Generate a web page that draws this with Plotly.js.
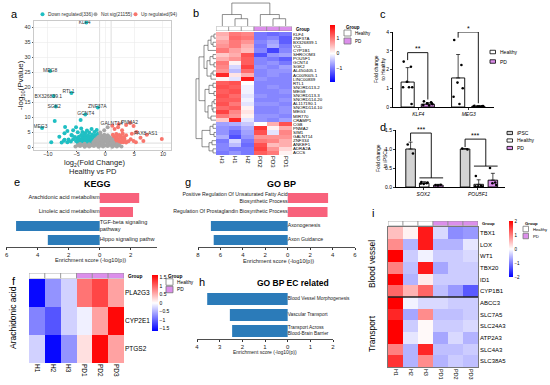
<!DOCTYPE html>
<html><head><meta charset="utf-8">
<script src="https://cdn.plot.ly/plotly-3.0.1.min.js"></script>
<style>html,body{margin:0;padding:0;background:#fff}#chart{width:550px;height:385px}</style>
</head><body><div id="chart"></div>
<script>
// ================= DATA =================
// a: volcano
const volcanoLegend = ['Down regulated(336)','Not sig(21155)','Up regulated(94)'];
const downX = [-3.3,-9.6,-5.9,-9.0,-8.6,-1.3,-3.5,-11.0,
 -8.8,-4.3,-7.0,-6.6,-7.1,-5.9,-5.1,-5.6,-4.8,-4.2,-4.0,-3.5,-2.8,-1.9,-1.5,-7.1,-9.4,-8.0,-3.2,-2.4,
 -4.8,-4.3,-3.9,-3.4,-2.9,-2.4,-1.9,-1.4,
 -5.1,-4.6,-4.1,-3.6,-3.1,-2.6,-2.1,-1.6,-1.2,
 -4.9,-4.4,-3.9,-3.4,-2.9,-2.4,-1.9,-1.4,
 -4.6,-4.0,-3.5,-3.0,-2.5,-2.0,-1.5,
 -4.2,-3.6,-3.0,-2.3,-1.7,-1.3,
 -5.6,-6.0,-6.4,-5.3,-5.8,-6.6,-7.2,-7.6];
const downY = [41.5,25.3,18.0,17.0,13.5,13.2,10.8,6.3,
 8.7,9.0,6.7,5.3,4.6,4.0,6.6,5.6,4.9,6.2,5.0,4.7,4.8,5.0,5.7,2.4,1.6,3.4,5.5,6.0,
 1.5,1.6,1.4,1.5,1.4,1.5,1.4,1.5,
 2.0,2.2,2.1,2.3,2.0,2.2,2.1,2.3,2.0,
 2.8,2.6,2.9,2.7,2.8,2.6,2.9,2.7,
 3.4,3.3,3.6,3.2,3.5,3.4,3.2,
 4.0,4.2,3.9,4.1,3.9,4.4,
 2.6,1.8,2.5,3.3,3.8,1.6,2.1,1.5];
const upX = [2.3,4.3,7.2,
 1.3,1.7,2.1,2.6,3.1,3.6, 1.4,1.9,2.4,2.9,3.4,4.0, 1.2,1.6,2.2,2.7,3.3, 1.5,2.0,2.6,3.1,
 1.3,1.9,2.4,3.0,3.6, 4.4,4.9,5.3,6.1,6.6,9.8, 4.6,5.4, 1.6,2.2,2.9,3.6,4.9,1.2];
const upY = [7.6,8.0,4.1,
 1.5,1.6,1.4,1.5,1.6,1.5, 2.1,2.3,2.0,2.2,2.1,1.9, 2.8,2.9,2.7,3.0,2.8, 3.5,3.4,3.7,3.3,
 4.1,4.3,4.0,4.5,3.9, 2.6,2.0,1.6,3.1,2.0,2.7, 4.4,5.0, 6.0,6.6,5.6,7.3,7.0,7.1];
const nsX = [-5.2,-4.4,-3.6,-2.8,-2.0,-1.2,-0.4,0.4,1.2,2.0,2.8,
 -4.8,-4.0,-3.2,-2.4,-1.6,-0.8,0.0,0.8,1.6,2.4,
 -4.4,-3.6,-2.8,-2.0,-1.2,-0.4,0.4,1.2,2.0,
 -2.1,-1.5,-0.9,-0.3,0.3,0.9,1.4,
 -1.9,-1.3,-0.7,-0.1,0.5,1.1,
 -1.7,-1.1,-0.5,0.1,0.7,1.2,
 -1.4,-0.8,-0.2,0.4,0.9,
 -1.1,-0.5,0.1,0.6,
 -0.8,-0.2,0.4,
 -0.9,-0.2,0.4];
const nsY = [0.2,0.3,0.1,0.2,0.3,0.1,0.2,0.3,0.1,0.2,0.2,
 0.6,0.7,0.5,0.6,0.7,0.5,0.6,0.7,0.5,0.6,
 1.0,1.1,0.9,1.0,1.1,0.9,1.0,1.1,0.9,
 1.5,1.6,1.4,1.5,1.6,1.4,1.5,
 2.0,2.1,1.9,2.0,2.1,1.9,
 2.5,2.6,2.4,2.5,2.6,2.4,
 3.0,3.1,2.9,3.0,3.0,
 3.5,3.6,3.4,3.5,
 4.0,4.1,3.9,
 4.8,5.6,6.6];
const volcanoLabels = ['KLF4','MEG8','RTL1','BX326839.1','SGK2','ZNF37A','GCNT4','MEG3','GALNT14','PNMA2','PAX8-AS1'];
const labelX = [-3.6,-9.6,-6.4,-9.9,-8.9,-1.4,-3.4,-11.3,1.1,4.2,7.0];
const labelY = [41.3,25.3,18.5,16.8,13.4,13.3,11.1,6.7,7.7,8.1,4.3];
const fcThreshold = 1, pThreshold = 0.05;

// b: heatmap of DEGs
const bCols = ['H3','H1','H2','PD2','PD3','PD1'];
const bGroup = ['Healthy','Healthy','Healthy','PD','PD','PD'];
const bGenes = ['KLF4','ZNF37A','BX326839.1','VCL','CYP1B1','SHROOM3','POU5F1','GCNT4','SGK2','AL450405.1',
 'AC009005.1','LINC00839','RTL1','SNORD113-2','MEG8','SNORD113-3','SNORD114-20','AL117190.1','SNORD114-10','MEG3',
 'MIR770','CRAMP1','CGB','PNMA2','SIM1','GALNT14','ZNF334','ANKEF1','ADRA2A','ACCS'];
const bZ = [
 [0.6,1.0,0.9,-1.0,-1.1,-1.0],[0.5,1.1,1.0,-1.0,-0.9,-1.2],[0.7,1.0,0.8,-0.9,-0.7,-1.2],[0.8,1.0,0.6,-1.0,-0.6,-1.0],
 [1.0,0.7,0.5,-0.9,-1.4,-0.9],[0.4,0.6,1.3,-1.3,-0.8,-0.7],[0.6,0.8,1.2,-0.9,-1.0,-1.2],[1.0,0.1,1.2,-0.9,-0.8,-1.0],
 [0.9,-0.3,1.4,-0.8,-0.9,-0.7],[0.8,-0.5,1.1,-0.9,-0.8,-0.8],[1.6,0.2,0.6,-0.9,-0.8,-0.9],[0.1,-0.2,1.7,-0.8,-0.9,-0.9],
 [1.2,1.3,0.0,-0.9,-0.9,-0.9],[1.3,1.2,-0.1,-0.9,-0.8,-0.9],[1.2,1.3,-0.1,-0.9,-0.9,-0.8],[1.3,1.1,-0.2,-0.8,-0.9,-0.9],
 [1.2,1.2,-0.1,-0.9,-0.9,-0.8],[1.3,1.0,-0.2,-0.8,-0.8,-0.9],[1.1,1.2,0.1,-0.9,-0.9,-0.8],[1.4,0.9,0.2,-0.9,-0.9,-0.8],
 [1.0,0.8,0.1,-0.8,-0.8,-0.9],[0.4,1.6,-0.2,-0.8,-0.9,-0.7],
 [-0.7,-0.6,-0.4,0.0,0.6,1.3],[-0.8,-0.9,-0.6,1.5,0.1,0.6],[-0.8,-1.1,-0.7,1.3,-0.2,0.9],[-0.6,-1.3,-0.8,0.8,0.8,0.8],
 [-1.0,-0.3,-1.0,1.0,0.9,0.6],[-0.9,-0.5,-1.1,1.3,0.5,0.6],[-0.9,-1.0,-1.0,1.4,0.8,0.3],[-1.0,-0.8,-1.0,1.2,1.0,0.1]];
// dendrograms: [height, left, right], leaves = column / row index
const colTree = [22,[11,0,[7,1,2]],[11,3,[7,4,5]]];
const rowTree = [20,
 [17,[12,[8,[5,[2,0,1],[3,2,3]],4],[9,[6,[3,5,6],[2,7,8]],[5,[3,9,10],11]]],
     [11,[7,[3,12,13],[2,14,15]],[8,[4,[2,16,17],[3,18,19]],[5,20,21]]]],
 [14,[6,[3,22,23],[2,24,25]],[7,[4,26,27],[3,28,29]]]];

// c: qPCR fold change to Healthy
const cGenes = ['KLF4','MEG3'];
const cHealthy = [1.33,1.55], cHealthyErr = [0.77,1.25];
const cPD = [0.15,0.04], cPDErr = [0.08,0.03];
const cHealthyDots = [[2.42,2.15,1.35,1.05,1.05,1.05,0.16],[3.57,2.24,1.3,1.0,0.55,0.16]];
const cPDDots = [[0.3,0.25,0.2,0.15,0.1,0.08,0.2],[0.06,0.04,0.03,0.05,0.04,0.03]];
const cSigText = ['**','*'], cSigY = [2.9,4.0], cSigLeft = [2.5,3.7], cSigRight = [0.4,0.2];

// d: fold change to iPSCs
const dGenes = ['SOX2','POU5F1'];
const dIPSC = [1.0,1.0], dIPSCErr = [0.18,0.01];
const dHealthy = [0.1,0.07], dHealthyErr = [0.04,0.12];
const dPD = [0.05,0.18], dPDErr = [0.02,0.18];
const dIPSCDots = [[1.12,0.88],[1.01,0.99]];
const dHealthyDots = [[0.13,0.1,0.08,0.12,0.09],[0.29,0.03,0.02,0.01,0.02]];
const dPDDots = [[0.05,0.06,0.04],[0.5,0.12,0.1,0.05]];
const dSigText = ['***','***'], dSigY = [1.42,1.26], dSigLeft = [1.2,1.05], dSigRight = [0.24,0.55];

// e / g / h: enrichment
const keggTerms = ['Arachidonic acid metabolism','Linoleic acid metabolism','TGF-beta signaling<br>pathway','Hippo signaling pathw'];
const keggScore = [2.55,2.15,-5.4,-3.35];
const goTerms = ['Positive Regulation Of Unsaturated Fatty Acid<br>Biosynthetic Process','Regulation Of Prostaglandin Biosynthetic Process','Axonogenesis','Axon Guidance'];
const goScore = [3.6,3.55,-6.85,-6.6];
const ecTerms = ['Blood Vessel Morphogenesis','Vascular Transport','Transport Across<br>Blood-Brain Barrier'];
const ecScore = [-3.55,-2.55,-2.45];

// f: arachidonic acid heatmap
const fCols = ['H1','H2','H3','PD1','PD2','PD3'];
const fGroup = ['Healthy','Healthy','Healthy','PD','PD','PD'];
const fGenes = ['PLA2G3','CYP2E1','PTGS2'];
const fZ = [[-1.6,-0.7,-0.3,0.9,1.2,0.6],[-0.8,-1.1,-0.3,-0.1,0.6,1.6],[-0.3,-1.6,-0.7,0.2,1.6,0.6]];

// i: EC related heatmap
const iCols = ['H1','H2','H3','PD1','PD2','PD3'];
const iGroup = ['Healthy','Healthy','Healthy','PD','PD','PD'];
const iBloodGenes = ['TBX1','LOX','WT1','TBX20','ID1','CYP1B1'];
const iTransportGenes = ['ABCC3','SLC7A5','SLC24A3','ATP2A3','SLC4A3','SLC38A5'];
const iZ = [
 [0.5,0.1,1.8,-0.3,-0.9,-0.8],[0.9,-0.6,1.8,-0.6,-0.6,-0.2],[2.0,-0.4,-0.1,-0.4,-0.4,-0.3],
 [1.0,-0.5,1.8,-0.7,-0.4,-0.4],[2.0,-0.6,0.15,-0.4,-0.4,-0.4],[1.2,0.6,1.2,-0.5,-0.8,-1.3],
 [2.0,-0.1,-0.3,-0.3,-0.4,-0.4],[1.7,-0.7,0.9,-0.5,-0.5,-0.4],[2.0,-0.4,0.05,-0.4,-0.4,-0.3],
 [2.0,-0.2,0.05,-0.7,-0.3,-0.6],[1.0,-0.6,1.7,-0.5,-0.5,-0.4],[1.6,-0.6,0.9,-0.6,-0.4,-0.5]];

// ================= STYLE / LAYOUT HELPERS =================
const FONT = 'Liberation Sans, Arial, Helvetica, sans-serif';
const W = 550, H = 385;
const PX = v => v / W, PY = v => 1 - v / H;
const dX = (a, b) => [PX(a), PX(b)];
const dY = (t, b) => [PY(b), PY(t)];
const BWR = [[0,'#0000FF'],[0.5,'#FFFFFF'],[1,'#FF0000']];
const groupColor = {Healthy:'#FFFFFF', PD:'#DC8FEB'};
const UPC = '#F8627C', DNC = '#2B7BB9';
const traces = [], shapes = [], annotations = [];
const layout = {width:W, height:H, margin:{l:0,r:0,t:0,b:0}, paper_bgcolor:'#fff', plot_bgcolor:'rgba(0,0,0,0)',
  showlegend:false, font:{family:FONT, size:6, color:'#000'}, shapes, annotations};

function ann(text, x, y, o = {}) {
  annotations.push(Object.assign({text, x:PX(x), y:PY(y), xref:'paper', yref:'paper', showarrow:false,
    xanchor:'center', yanchor:'middle', font:{family:FONT, size:o.size || 6, color:o.color || '#000'}}, o.extra || {},
    o.xanchor ? {xanchor:o.xanchor} : {}, o.angle !== undefined ? {textangle:o.angle} : {}));
}
function rectPx(x0, y0, x1, y1, fill, line, lw) {
  shapes.push({type:'rect', xref:'paper', yref:'paper', x0:PX(x0), x1:PX(x1), y0:PY(y1), y1:PY(y0),
    fillcolor:fill, line:{color:line, width:lw === undefined ? 0.8 : lw}});
}
function boxLegend(names, fills, x, y0, dy, w, h, size, lineColor, title) {
  if (title) ann('<b>' + title + '</b>', x, y0 - dy * 0.75, {size, xanchor:'left'});
  names.forEach((n, k) => {
    const yc = y0 + k * dy;
    rectPx(x, yc - h / 2, x + w, yc + h / 2, fills[k], lineColor, 0.8);
    ann(n, x + w + 2, yc, {size, xanchor:'left'});
  });
}
const blank = {showgrid:false, zeroline:false, showticklabels:false, ticks:'', showline:false};

// ================= a: VOLCANO =================
traces.push({type:'scatter', mode:'markers', x:downX, y:downY, xaxis:'x', yaxis:'y', marker:{color:'#1FBFC3', size:4}});
traces.push({type:'scatter', mode:'markers', x:upX, y:upY, xaxis:'x', yaxis:'y', marker:{color:'#F8766D', size:4}});
traces.push({type:'scatter', mode:'markers', x:nsX, y:nsY, xaxis:'x', yaxis:'y', marker:{color:'#A6A6A6', size:4}});
traces.push({type:'scatter', mode:'text', x:labelX, y:labelY, text:volcanoLabels, xaxis:'x', yaxis:'y',
  textfont:{size:5, color:'#333'}, cliponaxis:false});
layout.xaxis = {domain:dX(34,171), anchor:'y', range:[-12.4,11.4], tickvals:[-10,-5,0,5,10], showgrid:true,
  gridcolor:'#EBEBEB', gridwidth:0.6, zeroline:false, showline:true, mirror:true, linecolor:'#BDBDBD', linewidth:0.8,
  ticks:'outside', ticklen:1.5, tickcolor:'#555', tickfont:{size:5.5, color:'#333'}, ticklabelstandoff:-3};
layout.yaxis = {domain:dY(21,150), anchor:'x', range:[-1,42], tickvals:[0,5,10,15,20,25,30,35,40], showgrid:true,
  gridcolor:'#EBEBEB', gridwidth:0.6, zeroline:false, showline:true, mirror:true, linecolor:'#BDBDBD', linewidth:0.8,
  ticks:'outside', ticklen:1.5, tickcolor:'#555', tickfont:{size:5.5, color:'#333'}};
[-fcThreshold, fcThreshold].forEach(v => shapes.push({type:'line', xref:'x', yref:'y domain', x0:v, x1:v, y0:0, y1:1,
  line:{color:'#D4D4D4', width:0.8}, layer:'below'}));
shapes.push({type:'line', xref:'x domain', yref:'y', x0:0, x1:1, y0:-Math.log10(pThreshold), y1:-Math.log10(pThreshold),
  line:{color:'#D4D4D4', width:0.8}, layer:'below'});
ann('-log<sub>10</sub>(Pvalue)', 21, 85, {size:8, angle:-90, color:'#222'});
ann('log<sub>2</sub>(Fold Change)', 94, 163, {size:7.5, color:'#222'});
ann('Healthy vs PD', 93, 172, {size:7.5, color:'#222'});
const vColors = ['#1FBFC3','#A6A6A6','#F8766D'], vCx = [42.5,95.5,135.5];
volcanoLegend.forEach((t, k) => {
  shapes.push({type:'circle', xref:'paper', yref:'paper', x0:PX(vCx[k]-2), x1:PX(vCx[k]+2), y0:PY(16.3), y1:PY(12.3),
    fillcolor:vColors[k], line:{width:0}});
  ann(t, vCx[k] + 3.5, 14.3, {size:4.8, xanchor:'left', color:'#333'});
});

// ================= b: DEG HEATMAP =================
traces.push({type:'heatmap', z:bZ, x:bCols, y:bGenes, xaxis:'x2', yaxis:'y2', colorscale:BWR, zmin:-1.9, zmax:1.9,
  colorbar:{x:PX(330), xanchor:'left', y:PY(25), yanchor:'top', len:57, lenmode:'pixels', thickness:5,
    thicknessmode:'pixels', outlinewidth:0, tickvals:[-1,0,1], tickfont:{size:5}, ticks:'', xpad:0, ypad:0}});
layout.xaxis2 = {domain:dX(216,292), anchor:'y2', type:'category', categoryorder:'array', categoryarray:bCols,
  range:[-0.5,5.5], tickangle:90, tickfont:{size:6}, ticks:'', showgrid:false, zeroline:false};
layout.yaxis2 = {domain:dY(32,155), anchor:'x2', side:'right', type:'category', range:[bGenes.length-0.5,-0.5],
  tickmode:'array', tickvals:bGenes, ticktext:bGenes, tickfont:{size:4.4}, ticks:'', showgrid:false, zeroline:false};
function groupBars(cols, groups, xa, ya) {
  ['Healthy','PD'].forEach(g => {
    const xs = cols.filter((c, i) => groups[i] === g);
    traces.push({type:'bar', x:xs, y:xs.map(() => 1), width:1, xaxis:xa, yaxis:ya,
      marker:{color:groupColor[g], line:{color:'#8C8C8C', width:0.7}}});
  });
}
groupBars(bCols, bGroup, 'x3', 'y3');
layout.xaxis3 = Object.assign({domain:dX(216,292), anchor:'y3', type:'category', categoryorder:'array', categoryarray:bCols, range:[-0.5,5.5]}, blank);
layout.yaxis3 = Object.assign({domain:dY(26.5,31), anchor:'x3', range:[0,1]}, blank);
ann('<b>Group</b>', 294, 29, {size:4.5, xanchor:'left'});
function dendro(node, pts, isRow) {
  if (typeof node === 'number') return [node, 0];
  const [h, L, R] = node;
  const [pl, hl] = dendro(L, pts, isRow), [pr, hr] = dendro(R, pts, isRow);
  const seg = [[pl, hl], [pl, h], [pr, h], [pr, hr]];
  seg.forEach(([p, q]) => { pts.x.push(isRow ? q : p); pts.y.push(isRow ? p : q); });
  pts.x.push(null); pts.y.push(null);
  return [(pl + pr) / 2, h];
}
const cd = {x:[], y:[]}; dendro(colTree, cd, false);
const rd = {x:[], y:[]}; dendro(rowTree, rd, true);
traces.push({type:'scatter', mode:'lines', x:cd.x, y:cd.y, xaxis:'x4', yaxis:'y4', line:{color:'#444', width:0.6}});
traces.push({type:'scatter', mode:'lines', x:rd.x, y:rd.y, xaxis:'x5', yaxis:'y5', line:{color:'#444', width:0.6}});
layout.xaxis4 = Object.assign({domain:dX(216,292), anchor:'y4', range:[-0.5,5.5]}, blank);
layout.yaxis4 = Object.assign({domain:dY(2,26), anchor:'x4', range:[0,23]}, blank);
layout.xaxis5 = Object.assign({domain:dX(195,216), anchor:'y5', range:[21,0]}, blank);
layout.yaxis5 = Object.assign({domain:dY(32,155), anchor:'x5', range:[bGenes.length-0.5,-0.5]}, blank);
boxLegend(['Healthy','PD'], [groupColor.Healthy, groupColor.PD], 344, 33, 8, 7, 6, 4.5, '#777', 'Group');

// ================= c / d: qPCR BARS =================
const JIT = [-0.3,0.25,-0.05,0.35,-0.35,0.1,0.3,-0.2];
function qpcr(genes, series, xa, ya, sig) {
  series.forEach(s => {
    traces.push({type:'bar', x:genes.map((g, i) => i), y:s.vals, width:s.w, offset:s.off, xaxis:xa, yaxis:ya,
      marker:{color:s.fill, line:{color:'#000', width:0.9}},
      error_y:{type:'data', symmetric:false, array:s.err, arrayminus:s.err.map(() => 0), color:'#000', thickness:0.7, width:2}});
    const dx = [], dy = [];
    s.dots.forEach((arr, i) => arr.forEach((v, j) => { dx.push(i + s.off + s.w / 2 + JIT[j % JIT.length] * s.w); dy.push(v); }));
    traces.push({type:'scatter', mode:'markers', x:dx, y:dy, xaxis:xa, yaxis:ya, marker:{color:'#000', size:2.6}, cliponaxis:false});
  });
  const lx = [], ly = [];
  genes.forEach((g, i) => {
    const a = series[0], b = series[series.length - 1], m = series.length === 3 ? series[1] : null;
    const xl = i + a.off + a.w / 2;
    const xr = m ? i + ((m.off + m.w / 2) + (b.off + b.w / 2)) / 2 : i + b.off + b.w / 2;
    lx.push(xl, xl, xr, xr, null); ly.push(sig.left[i], sig.y[i], sig.y[i], sig.right[i], null);
    if (m) { lx.push(i + m.off, i + b.off + b.w, null); ly.push(sig.right[i], sig.right[i], null); }
    annotations.push({xref:xa, yref:ya, x:(xl + xr) / 2, y:sig.y[i], yanchor:'bottom', yshift:-1.5, text:sig.text[i],
      showarrow:false, font:{family:FONT, size:7, color:'#000'}});
  });
  traces.push({type:'scatter', mode:'lines', x:lx, y:ly, xaxis:xa, yaxis:ya, line:{color:'#000', width:0.9}, cliponaxis:false});
}
const axisBlack = {showgrid:false, zeroline:false, showline:true, linecolor:'#000', linewidth:1, ticks:'outside',
  ticklen:2, tickwidth:0.8, tickcolor:'#000', tickfont:{size:5}};
qpcr(cGenes, [
  {vals:cHealthy, err:cHealthyErr, dots:cHealthyDots, fill:groupColor.Healthy, off:-0.34, w:0.26},
  {vals:cPD, err:cPDErr, dots:cPDDots, fill:groupColor.PD, off:0.06, w:0.26}], 'x6', 'y6',
  {text:cSigText, y:cSigY, left:cSigLeft, right:cSigRight});
layout.xaxis6 = Object.assign({}, axisBlack, {domain:dX(393,494), anchor:'y6', range:[-0.5,1.5], tickvals:[0,1],
  ticktext:cGenes.map(g => '<i>' + g + '</i>')});
layout.yaxis6 = Object.assign({}, axisBlack, {domain:dY(32,107), anchor:'x6', range:[0,4], tickvals:[0,1,2,3,4]});
ann('Fold change<br>to Healthy', 380, 69, {size:5, angle:-90});
boxLegend(['Healthy','PD'], [groupColor.Healthy, groupColor.PD], 490, 52, 9.5, 5.5, 3.5, 5, '#000');

qpcr(dGenes, [
  {vals:dIPSC, err:dIPSCErr, dots:dIPSCDots, fill:'#D3D3D3', off:-0.32, w:0.175},
  {vals:dHealthy, err:dHealthyErr, dots:dHealthyDots, fill:groupColor.Healthy, off:-0.07, w:0.175},
  {vals:dPD, err:dPDErr, dots:dPDDots, fill:groupColor.PD, off:0.19, w:0.175}], 'x7', 'y7',
  {text:dSigText, y:dSigY, left:dSigLeft, right:dSigRight});
layout.xaxis7 = Object.assign({}, axisBlack, {domain:dX(396,505), anchor:'y7', range:[-0.5,1.5], tickvals:[0,1],
  ticktext:dGenes.map(g => '<i>' + g + '</i>')});
layout.yaxis7 = Object.assign({}, axisBlack, {domain:dY(130,187), anchor:'x7', range:[0,1.5], tickvals:[0,0.5,1,1.5], tickformat:'.1f'});
ann('Fold change<br>to iPSCs', 381, 158, {size:5, angle:-90});
boxLegend(['iPSC','Healthy','PD'], ['#D3D3D3', groupColor.Healthy, groupColor.PD], 507, 133, 7.5, 5.5, 3.2, 5, '#000');

// ================= e / g / h: ENRICHMENT =================
function enrich(terms, scores, xa, ya, barW, size) {
  traces.push({type:'bar', orientation:'h', y:terms, x:scores, width:barW, xaxis:xa, yaxis:ya,
    marker:{color:scores.map(v => v > 0 ? UPC : DNC), line:{width:0}}});
  traces.push({type:'scatter', mode:'text', y:terms, x:terms.map(() => 0), text:terms, xaxis:xa, yaxis:ya,
    textposition:scores.map(v => v > 0 ? 'middle left' : 'middle right'), textfont:{size, color:'#222'}, cliponaxis:false});
}
function enrichX(dom, yref, range, ticks) {
  return Object.assign({}, axisBlack, {domain:dom, anchor:yref, range, tickvals:ticks,
    ticktext:ticks.map(t => String(Math.abs(t))), tickfont:{size:6, color:'#222'}, linecolor:'#222', linewidth:0.8});
}
enrich(keggTerms, keggScore, 'x8', 'y8', 0.72, 5.6);
layout.xaxis8 = enrichX(dX(6,157), 'y8', [-6.05,3.7], [-6,-4,-2,0,2]);
layout.yaxis8 = Object.assign({domain:dY(191,247), anchor:'x8', type:'category', range:[keggTerms.length-0.5,-0.5]}, blank);
ann('Enrichment score (-log10(p))', 90, 260, {size:5.6, color:'#222'});
ann('<b>KEGG</b>', 97, 184, {size:9});

enrich(goTerms, goScore, 'x9', 'y9', 0.72, 5.2);
layout.xaxis9 = enrichX(dX(198,355), 'y9', [-8,6], [-8,-6,-4,-2,0,2,4,6]);
layout.yaxis9 = Object.assign({domain:dY(191,247), anchor:'x9', type:'category', range:[goTerms.length-0.5,-0.5]}, blank);
ann('Enrichment score (-log10(p))', 278, 261, {size:5.6, color:'#222'});
ann('<b>GO BP</b>', 281, 184, {size:9});

enrich(ecTerms, ecScore, 'x10', 'y10', 0.75, 4.8);
layout.xaxis10 = enrichX(dX(197,333), 'y10', [-4,2], [-4,-3,-2,-1,0,1,2]);
layout.yaxis10 = Object.assign({domain:dY(291,339), anchor:'x10', type:'category', range:[ecTerms.length-0.5,-0.5]}, blank);
ann('Enrichment score (-log10(p))', 265, 352, {size:5, color:'#222'});
ann('<b>GO BP EC related</b>', 293, 283, {size:8.5});

// ================= f: ARACHIDONIC ACID HEATMAP =================
traces.push({type:'heatmap', z:fZ, x:fCols, y:fGenes, xaxis:'x11', yaxis:'y11', colorscale:BWR, zmin:-1.65, zmax:1.65,
  colorbar:{x:PX(152), xanchor:'left', y:PY(275), yanchor:'top', len:56, lenmode:'pixels', thickness:6,
    thicknessmode:'pixels', outlinewidth:0, tickvals:[-1.5,-1,-0.5,0,0.5,1,1.5], tickfont:{size:5}, ticks:'', xpad:0, ypad:0}});
layout.xaxis11 = {domain:dX(29,124), anchor:'y11', type:'category', categoryorder:'array', categoryarray:fCols,
  range:[-0.5,5.5], tickangle:90, tickfont:{size:6.5}, ticks:'', showgrid:false, zeroline:false};
layout.yaxis11 = {domain:dY(279,363), anchor:'x11', side:'right', type:'category', range:[fGenes.length-0.5,-0.5],
  tickfont:{size:6.5}, ticks:'', showgrid:false, zeroline:false};
groupBars(fCols, fGroup, 'x12', 'y12');
layout.xaxis12 = Object.assign({domain:dX(29,124), anchor:'y12', type:'category', categoryorder:'array', categoryarray:fCols, range:[-0.5,5.5]}, blank);
layout.yaxis12 = Object.assign({domain:dY(273,278.5), anchor:'x12', range:[0,1]}, blank);
ann('<b>Group</b>', 125.5, 276, {size:4.8, xanchor:'left'});
boxLegend(['Healthy','PD'], [groupColor.Healthy, groupColor.PD], 166, 282, 7.5, 7, 6.5, 4.8, '#777', 'Group');
ann('Arachidonic acid', 13, 318, {size:8.5, angle:-90});

// ================= i: EC RELATED HEATMAP =================
const iGenes = iBloodGenes.concat(iTransportGenes);
traces.push({type:'heatmap', z:iZ, x:iCols, y:iGenes, xaxis:'x13', yaxis:'y13', colorscale:BWR, zmin:-2, zmax:2,
  colorbar:{x:PX(509), xanchor:'left', y:PY(221), yanchor:'top', len:56, lenmode:'pixels', thickness:4,
    thicknessmode:'pixels', outlinewidth:0, tickvals:[-2,-1,0,1,2], tickfont:{size:4.5}, ticks:'', xpad:0, ypad:0}});
layout.xaxis13 = {domain:dX(388,478), anchor:'y13', type:'category', categoryorder:'array', categoryarray:iCols,
  range:[-0.5,5.5], tickangle:90, tickfont:{size:5.5}, ticks:'', showgrid:false, zeroline:false,
  showline:true, mirror:true, linecolor:'#555', linewidth:0.8};
layout.yaxis13 = {domain:dY(227,367), anchor:'x13', side:'right', type:'category', range:[iGenes.length-0.5,-0.5],
  tickmode:'array', tickvals:iGenes, ticktext:iGenes, tickfont:{size:6}, ticks:'', showgrid:false, zeroline:false,
  showline:true, mirror:true, linecolor:'#555', linewidth:0.8};
shapes.push({type:'line', xref:'x13 domain', yref:'paper', x0:0, x1:1.0,
  y0:PY(227 + 140 * iBloodGenes.length / iGenes.length), y1:PY(227 + 140 * iBloodGenes.length / iGenes.length),
  line:{color:'#222', width:1.3}});
groupBars(iCols, iGroup, 'x14', 'y14');
layout.xaxis14 = Object.assign({domain:dX(388,478), anchor:'y14', type:'category', categoryorder:'array', categoryarray:iCols, range:[-0.5,5.5]}, blank);
layout.yaxis14 = Object.assign({domain:dY(221,225.8), anchor:'x14', range:[0,1]}, blank);
ann('<b>Group</b>', 479.5, 223.5, {size:4.2, xanchor:'left'});
boxLegend(['Healthy','PD'], [groupColor.Healthy, groupColor.PD], 523, 229, 7, 5.5, 5.5, 4.2, '#777', 'Group');
ann('Blood vessel', 372, 264, {size:8.5, angle:-90});
ann('Transport', 372, 334, {size:8.5, angle:-90});

// ================= panel letters =================
[['a',14,14],['b',196,13],['c',383,14],['d',383,127],['e',17,182],['g',188,182],['f',14,281],['h',202,282],['i',373,213]]
  .forEach(([t, x, y]) => ann(t, x, y, {size:11}));

Plotly.newPlot('chart', traces, layout, {displayModeBar:false, staticPlot:true});
</script></body></html>
